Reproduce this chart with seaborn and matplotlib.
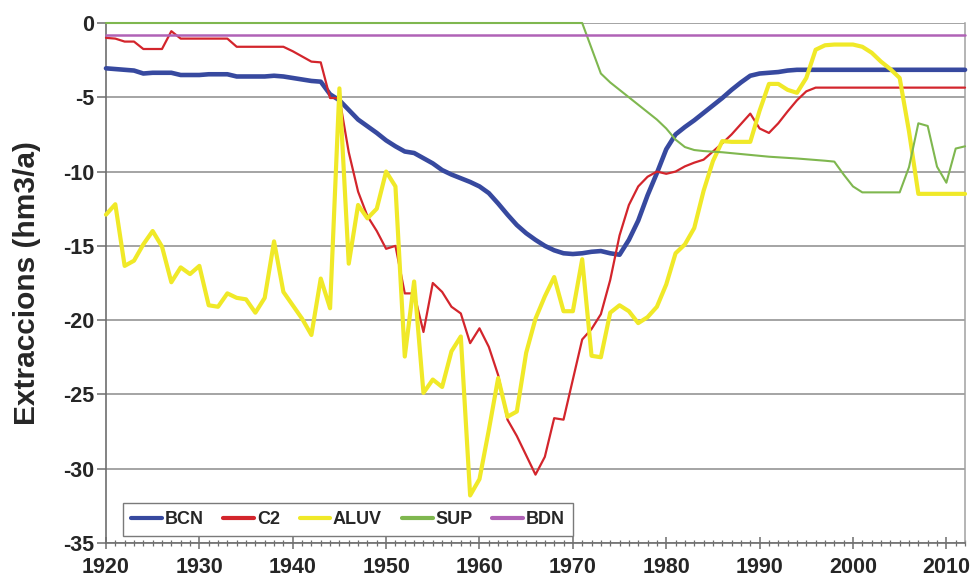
import matplotlib
matplotlib.use("Agg")
import matplotlib.pyplot as plt
from matplotlib.ticker import MultipleLocator
import pandas as pd
import seaborn as sns

# Annual groundwater abstractions per aquifer unit (hm3/a, negative = extraction)
years = list(range(1920, 2013))

bcn = [
    -3.05, -3.10, -3.15, -3.20, -3.40, -3.35, -3.35, -3.35, -3.50, -3.50,
    -3.50, -3.45, -3.45, -3.45, -3.60, -3.60, -3.60, -3.60, -3.55, -3.60,
    -3.70, -3.80, -3.90, -3.95, -4.80, -5.20, -5.85, -6.50, -6.95, -7.40,
    -7.90, -8.30, -8.65, -8.75, -9.10, -9.45, -9.90, -10.20, -10.45, -10.70,
    -11.00, -11.45, -12.15, -12.90, -13.60, -14.15, -14.60, -15.00, -15.30, -15.50,
    -15.55, -15.50, -15.40, -15.35, -15.50, -15.60, -14.60, -13.30, -11.60, -10.10,
    -8.50, -7.50, -7.00, -6.55, -6.05, -5.55, -5.05, -4.50, -4.00, -3.55,
    -3.40, -3.35, -3.30, -3.20, -3.15, -3.15, -3.15, -3.15, -3.15, -3.15,
    -3.15, -3.15, -3.15, -3.15, -3.15, -3.15, -3.15, -3.15, -3.15, -3.15,
    -3.15, -3.15, -3.15,
]

c2 = [
    -1.00, -1.05, -1.25, -1.25, -1.75, -1.75, -1.75, -0.55, -1.05, -1.05,
    -1.05, -1.05, -1.05, -1.05, -1.60, -1.60, -1.60, -1.60, -1.60, -1.60,
    -1.90, -2.25, -2.60, -2.65, -5.05, -5.05, -8.70, -11.35, -13.00, -14.00,
    -15.20, -15.00, -18.20, -18.20, -20.80, -17.50, -18.10, -19.10, -19.55, -21.55,
    -20.55, -21.80, -23.70, -26.70, -27.80, -29.10, -30.40, -29.20, -26.60, -26.70,
    -24.00, -21.30, -20.60, -19.60, -17.30, -14.30, -12.25, -11.00, -10.35, -10.00,
    -10.15, -10.00, -9.65, -9.40, -9.20, -8.65, -8.10, -7.50, -6.80, -6.10,
    -7.10, -7.40, -6.75, -5.95, -5.20, -4.60, -4.35, -4.35, -4.35, -4.35,
    -4.35, -4.35, -4.35, -4.35, -4.35, -4.35, -4.35, -4.35, -4.35, -4.35,
    -4.35, -4.35, -4.35,
]

aluv = [
    -12.90, -12.20, -16.35, -16.00, -14.90, -14.00, -15.05, -17.45, -16.45, -16.90,
    -16.35, -19.00, -19.10, -18.20, -18.50, -18.60, -19.50, -18.50, -14.70, -18.10,
    -19.00, -19.90, -21.00, -17.20, -19.20, -4.40, -16.20, -12.25, -13.15, -12.50,
    -10.00, -11.00, -22.45, -17.40, -24.90, -24.00, -24.50, -22.10, -21.10, -31.80,
    -30.70, -27.40, -23.90, -26.50, -26.15, -22.20, -19.90, -18.40, -17.10, -19.40,
    -19.40, -15.90, -22.40, -22.50, -19.50, -19.00, -19.40, -20.20, -19.80, -19.10,
    -17.60, -15.50, -14.90, -13.80, -11.30, -9.30, -7.95, -8.00, -8.00, -8.00,
    -5.90, -4.10, -4.10, -4.50, -4.70, -3.70, -1.80, -1.50, -1.45, -1.45,
    -1.45, -1.60, -2.00, -2.60, -3.10, -3.70, -7.30, -11.50, -11.50, -11.50,
    -11.50, -11.50, -11.50,
]

sup = [
    0.00, 0.00, 0.00, 0.00, 0.00, 0.00, 0.00, 0.00, 0.00, 0.00,
    0.00, 0.00, 0.00, 0.00, 0.00, 0.00, 0.00, 0.00, 0.00, 0.00,
    0.00, 0.00, 0.00, 0.00, 0.00, 0.00, 0.00, 0.00, 0.00, 0.00,
    0.00, 0.00, 0.00, 0.00, 0.00, 0.00, 0.00, 0.00, 0.00, 0.00,
    0.00, 0.00, 0.00, 0.00, 0.00, 0.00, 0.00, 0.00, 0.00, 0.00,
    0.00, 0.00, -1.70, -3.40, -4.00, -4.50, -5.00, -5.50, -6.00, -6.50,
    -7.10, -7.85, -8.35, -8.55, -8.62, -8.66, -8.70, -8.76, -8.82, -8.88,
    -8.94, -9.00, -9.04, -9.08, -9.12, -9.17, -9.22, -9.27, -9.33, -10.20,
    -11.00, -11.40, -11.40, -11.40, -11.40, -11.40, -9.70, -6.75, -6.93, -9.67,
    -10.75, -8.45, -8.30,
]

bdn = [
    -0.80, -0.80, -0.80, -0.80, -0.80, -0.80, -0.80, -0.80, -0.80, -0.80,
    -0.80, -0.80, -0.80, -0.80, -0.80, -0.80, -0.80, -0.80, -0.80, -0.80,
    -0.80, -0.80, -0.80, -0.80, -0.80, -0.80, -0.80, -0.80, -0.80, -0.80,
    -0.80, -0.80, -0.80, -0.80, -0.80, -0.80, -0.80, -0.80, -0.80, -0.80,
    -0.80, -0.80, -0.80, -0.80, -0.80, -0.80, -0.80, -0.80, -0.80, -0.80,
    -0.80, -0.80, -0.80, -0.80, -0.80, -0.80, -0.80, -0.80, -0.80, -0.80,
    -0.80, -0.80, -0.80, -0.80, -0.80, -0.80, -0.80, -0.80, -0.80, -0.80,
    -0.80, -0.80, -0.80, -0.80, -0.80, -0.80, -0.80, -0.80, -0.80, -0.80,
    -0.80, -0.80, -0.80, -0.80, -0.80, -0.80, -0.80, -0.80, -0.80, -0.80,
    -0.80, -0.80, -0.80,
]

series_names = ["BCN", "C2", "ALUV", "SUP", "BDN"]
series_values = [bcn, c2, aluv, sup, bdn]
series_colors = ["#37499f", "#d3252c", "#f0e928", "#7fb74f", "#b062b6"]
series_widths = [3.3, 1.6, 3.0, 1.5, 1.8]

y_ticks = [0, -5, -10, -15, -20, -25, -30, -35]
x_ticks = [1920, 1930, 1940, 1950, 1960, 1970, 1980, 1990, 2000, 2010]

df = pd.DataFrame({"Any": years})
for name, vals in zip(series_names, series_values):
    df[name] = vals
long_df = df.melt(id_vars="Any", var_name="Serie", value_name="Extraccions")

sns.set_theme(style="white")
plt.rcParams["font.family"] = ["Liberation Sans", "DejaVu Sans"]
plt.rcParams["font.weight"] = "bold"
plt.rcParams["axes.unicode_minus"] = False

fig, ax = plt.subplots(figsize=(9.74, 5.78), dpi=100)
fig.subplots_adjust(left=0.1088, right=0.9908, top=0.9602, bottom=0.0606)

for name, color, lw in zip(series_names, series_colors, series_widths):
    sns.lineplot(
        data=long_df[long_df["Serie"] == name],
        x="Any", y="Extraccions",
        color=color, linewidth=lw, label=name,
        estimator=None, ax=ax,
    )
# lines sitting on the 0 boundary stay fully visible
for line in ax.get_lines():
    line.set_clip_on(False)
    line.set_zorder(3)

ax.set_xlim(1920, 2012)
ax.set_ylim(-35, 0)
ax.set_xticks(x_ticks)
ax.set_xticklabels([str(t) for t in x_ticks])
ax.xaxis.set_minor_locator(MultipleLocator(1))
ax.set_yticks(y_ticks)
ax.set_yticklabels([str(t) for t in y_ticks])

ax.yaxis.grid(True, color="#8c8c8c", linewidth=1.1)
ax.xaxis.grid(False)
ax.set_axisbelow(True)

for side in ["left", "bottom"]:
    ax.spines[side].set_color("#6e6e6e")
    ax.spines[side].set_linewidth(1.2)
ax.spines["right"].set_color("#a0a0a0")
ax.spines["right"].set_linewidth(1.1)
ax.spines["top"].set_visible(False)

ax.tick_params(axis="x", which="major", direction="inout", length=8, width=1.1,
               color="#6e6e6e", labelsize=15.5, pad=6, bottom=True)
ax.tick_params(axis="x", which="minor", direction="inout", length=4, width=0.9,
               color="#6e6e6e", bottom=True)
ax.tick_params(axis="y", which="major", direction="out", length=6.5, width=1.1,
               color="#6e6e6e", labelsize=15.5, pad=2, left=True)

ax.set_xlabel("")
ax.set_ylabel("Extraccions (hm3/a)", fontsize=21.5, fontweight="bold", labelpad=16)

leg = ax.legend(
    loc="lower left", bbox_to_anchor=(0.0198, 0.0135), ncol=5,
    frameon=True, fancybox=False, edgecolor="#7a7a7a", framealpha=1,
    prop={"weight": "bold", "size": 13},
    handlelength=1.7, handletextpad=0.15, columnspacing=1.1,
    borderpad=0.45, borderaxespad=0,
)
leg.set_zorder(5)
leg.get_frame().set_linewidth(1.0)
for line in leg.get_lines():
    line.set_linewidth(3.0)

fig.savefig("out.png", dpi=100)
